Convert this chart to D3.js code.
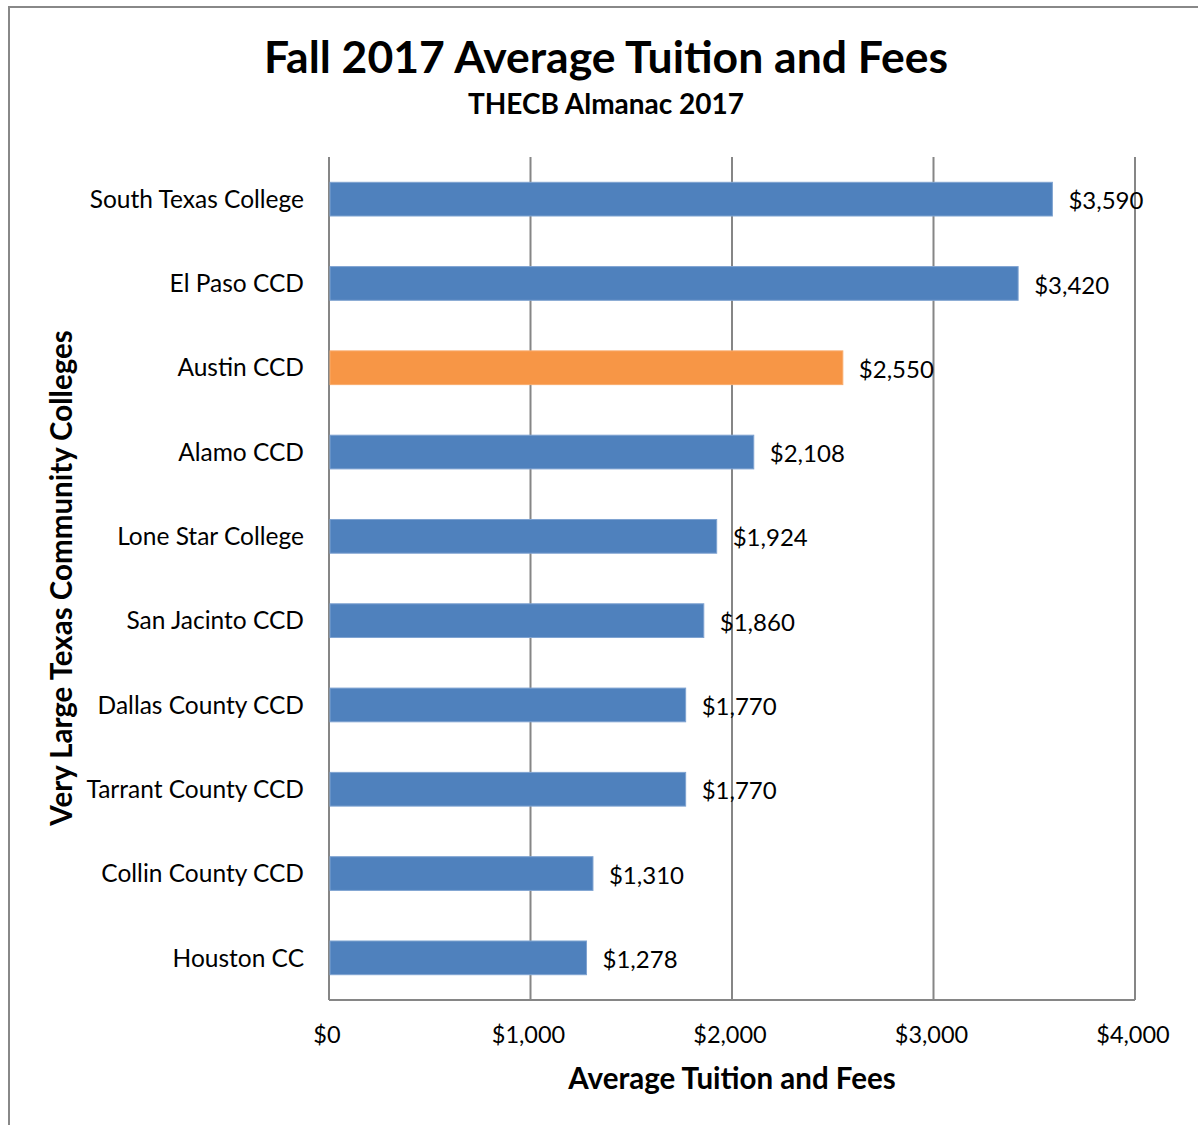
<!DOCTYPE html>
<html><head><meta charset="utf-8">
<script src="https://cdn.jsdelivr.net/npm/d3@7"></script>
<style>
body{margin:0;background:#fff;}
text{font-family:Lato,"Open Sans",sans-serif;fill:#000;}
</style></head>
<body>
<svg id="c" width="1198" height="1125"></svg>
<script>
const categories = ["South Texas College","El Paso CCD","Austin CCD","Alamo CCD","Lone Star College","San Jacinto CCD","Dallas County CCD","Tarrant County CCD","Collin County CCD","Houston CC"];
const values = [3590,3420,2550,2108,1924,1860,1770,1770,1310,1278];
const highlight = "Austin CCD";
const xTicks = [0,1000,2000,3000,4000];
const title = "Fall 2017 Average Tuition and Fees";
const subtitle = "THECB Almanac 2017";
const xTitle = "Average Tuition and Fees";
const yTitle = "Very Large Texas Community Colleges";

const svg = d3.select("#c");
const W=1198,H=1125;
svg.append("rect").attr("x",0).attr("y",0).attr("width",W).attr("height",H).attr("fill","#fff");
svg.append("path").attr("d","M9,1125 V7 H1198").attr("fill","none").attr("stroke","#888").attr("stroke-width",2);

const m={l:329,r:1135,t:157,b:1000};
const x=d3.scaleLinear().domain([0,4000]).range([m.l,m.r]);
const y=d3.scaleBand().domain(categories).range([m.t,m.b]).paddingInner(0.6).paddingOuter(0.3);
const fmt=d=>"$"+d3.format(",")(d);

svg.append("g").selectAll("line").data(xTicks).join("line")
  .attr("x1",d=>x(d)).attr("x2",d=>x(d)).attr("y1",m.t).attr("y2",m.b)
  .attr("stroke","#868686").attr("stroke-width",2);
svg.append("line").attr("x1",m.l).attr("x2",m.r).attr("y1",m.b).attr("y2",m.b).attr("stroke","#868686").attr("stroke-width",2);

svg.append("g").selectAll("rect").data(categories).join("rect")
  .attr("x",x(0)+1).attr("y",d=>y(d))
  .attr("width",(d,i)=>x(values[i])-x(0)-1).attr("height",y.bandwidth())
  .attr("fill",d=>d===highlight?"#F79646":"#4F81BD")
  .attr("stroke",d=>d===highlight?"#F9AB6B":"#7FA3D1").attr("stroke-width",1);

svg.append("g").selectAll("text").data(categories).join("text")
  .attr("x",(d,i)=>x(values[i])+16).attr("y",d=>y(d)+y.bandwidth()/2+4)
  .attr("dominant-baseline","middle").attr("font-size",24)
  .text((d,i)=>fmt(values[i]));

svg.append("g").selectAll("text").data(categories).join("text")
  .attr("x",304).attr("y",d=>y(d)+y.bandwidth()/2+2.5)
  .attr("dominant-baseline","middle").attr("text-anchor","end").attr("font-size",24.5)
  .text(d=>d);

svg.append("g").selectAll("text").data(xTicks).join("text")
  .attr("x",d=>x(d)-2).attr("y",1043).attr("text-anchor","middle").attr("font-size",23.5)
  .text(fmt);

svg.append("text").attr("x",606).attr("y",73).attr("text-anchor","middle").attr("font-size",44.5).attr("font-weight","bold").text(title);
svg.append("text").attr("x",606).attr("y",114).attr("text-anchor","middle").attr("font-size",28).attr("font-weight","bold").text(subtitle);
svg.append("text").attr("x",(m.l+m.r)/2).attr("y",1089).attr("text-anchor","middle").attr("font-size",29.5).attr("font-weight","bold").text(xTitle);
svg.append("text").attr("transform","translate(72,578) rotate(-90)").attr("text-anchor","middle").attr("font-size",29.5).attr("font-weight","bold").text(yTitle);
</script>
</body></html>
